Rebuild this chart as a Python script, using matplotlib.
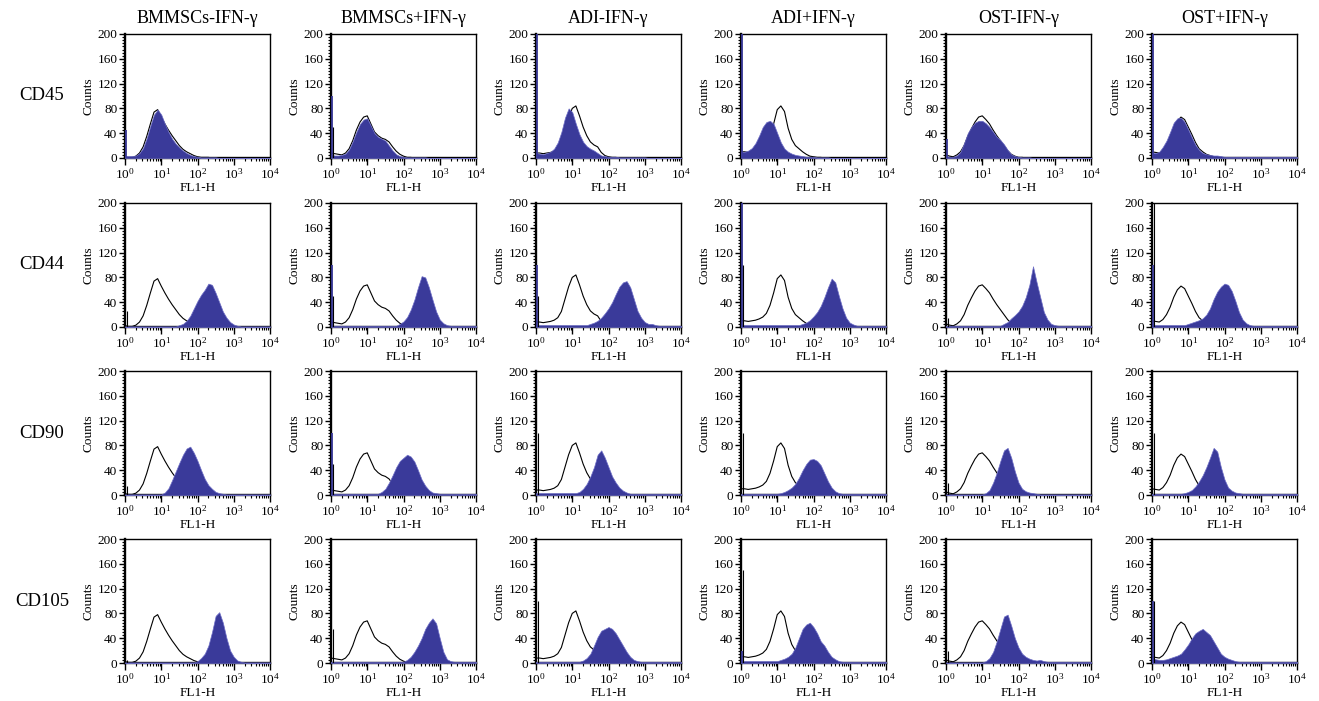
#!/usr/bin/env python3
"""Flow cytometry overlays: CD45/CD44/CD90/CD105 on BMMSCs, ADI and OST, with/without IFN-gamma."""

import numpy as np
import matplotlib
matplotlib.use('Agg')
import matplotlib.pyplot as plt
from matplotlib.ticker import MultipleLocator, FixedLocator, LogLocator, NullFormatter

plt.rcParams['font.family'] = ['Liberation Serif', 'DejaVu Serif']
plt.rcParams['mathtext.default'] = 'regular'

COLUMNS = ['BMMSCs-IFN-γ', 'BMMSCs+IFN-γ', 'ADI-IFN-γ', 'ADI+IFN-γ', 'OST-IFN-γ', 'OST+IFN-γ']
MARKERS = ['CD45', 'CD44', 'CD90', 'CD105']

# channel positions, log10(FL1-H) from 0 to 4 in steps of 0.1
LOG_X = np.round(np.arange(0, 41) * 0.1, 1)

# isotype control (open black line), one per column
CONTROLS = [
    [2, 1, 1, 3, 8, 18, 35, 55, 74, 78, 66, 55, 45, 36, 28, 20, 14, 10, 7, 4, 2, 1, 1, 1,
     0, 0, 0, 0, 0, 0, 0, 0, 0, 0, 0, 0, 0, 0, 0, 0, 0],
    [8, 7, 6, 5, 8, 15, 28, 45, 58, 66, 68, 55, 42, 36, 32, 30, 26, 18, 11, 6, 3, 1, 1,
     0, 0, 0, 0, 0, 0, 0, 0, 0, 0, 0, 0, 0, 0, 0, 0, 0, 0],
    [8, 8, 7, 8, 9, 11, 15, 25, 45, 65, 80, 84, 68, 50, 36, 26, 21, 18, 9, 4, 2, 1, 1,
     0, 0, 0, 0, 0, 0, 0, 0, 0, 0, 0, 0, 0, 0, 0, 0, 0, 0],
    [10, 10, 9, 10, 11, 13, 16, 22, 35, 55, 78, 84, 75, 48, 30, 20, 15, 10, 6, 3, 2, 1, 1,
     0, 0, 0, 0, 0, 0, 0, 0, 0, 0, 0, 0, 0, 0, 0, 0, 0, 0],
    [5, 3, 2, 5, 10, 20, 35, 47, 58, 66, 68, 62, 55, 45, 36, 28, 20, 12, 6, 3, 1, 1, 0,
     0, 0, 0, 0, 0, 0, 0, 0, 0, 0, 0, 0, 0, 0, 0, 0, 0, 0],
    [10, 9, 8, 12, 20, 32, 48, 60, 66, 62, 50, 38, 25, 15, 10, 6, 4, 2, 1, 1,
     0, 0, 0, 0, 0, 0, 0, 0, 0, 0, 0, 0, 0, 0, 0, 0, 0, 0, 0, 0, 0],
]

# stained sample (filled blue), one list per column
CD45 = [
    [3, 3, 3, 4, 8, 16, 32, 52, 70, 78, 70, 55, 42, 31, 23, 17, 12, 8, 5, 3, 2, 1, 1, 1, 1, 1,
     0, 0, 0, 0, 0, 0, 0, 0, 0, 0, 0, 0, 0, 0, 0],
    [5, 4, 4, 5, 7, 14, 27, 42, 55, 62, 64, 52, 40, 34, 31, 28, 20, 12, 6, 3, 2, 1, 1, 1, 1, 1, 1,
     0, 0, 0, 0, 0, 0, 0, 0, 0, 0, 0, 0, 0, 0],
    [8, 7, 6, 8, 10, 15, 25, 42, 65, 80, 74, 55, 38, 26, 19, 15, 12, 8, 4, 3, 2, 2, 2, 1, 1, 1,
     1, 1, 1, 1, 1, 0, 0, 0, 0, 0, 0, 0, 0, 0, 0],
    [10, 10, 12, 16, 24, 36, 50, 58, 60, 55, 40, 25, 15, 10, 7, 5, 4, 3, 2, 2, 2, 1, 1, 1, 1,
     0, 0, 0, 0, 0, 0, 0, 0, 0, 0, 0, 0, 0, 0, 0, 0],
    [3, 2, 2, 4, 10, 24, 40, 50, 57, 60, 60, 56, 50, 42, 34, 29, 22, 13, 6, 3, 2, 1, 1, 1,
     0, 0, 0, 0, 0, 0, 0, 0, 0, 0, 0, 0, 0, 0, 0, 0, 0],
    [8, 8, 10, 18, 28, 42, 57, 64, 65, 58, 46, 33, 21, 13, 8, 6, 5, 4, 4, 3,
     2, 2, 2, 2, 2, 2, 2, 2, 2, 2, 2, 2, 2, 2, 2, 2, 2, 2, 2, 2, 2],
]
CD44 = [
    [1, 1, 1, 1, 1, 1, 1, 1, 1, 1, 1, 1, 1, 1, 1, 3, 5, 10, 18, 30, 42, 52, 60, 70, 68, 55, 40,
     25, 15, 8, 4, 2, 1, 1, 1, 1, 1, 1, 1, 1, 1],
    [2, 2, 2, 2, 2, 2, 2, 2, 2, 2, 2, 2, 2, 2, 2, 2, 2, 2, 2, 5, 9, 16, 28, 44, 64, 82, 80, 64,
     44, 25, 12, 6, 3, 2, 2, 2, 2, 2, 2, 2, 2],
    [3, 3, 3, 3, 3, 3, 3, 3, 3, 3, 3, 3, 3, 3, 3, 5, 7, 10, 15, 22, 30, 40, 53, 65, 72, 74, 64,
     45, 26, 15, 8, 5, 5, 3, 2, 2, 2, 2, 2, 2, 2],
    [3, 3, 3, 3, 3, 3, 3, 3, 3, 3, 3, 3, 3, 3, 3, 3, 3, 5, 7, 11, 17, 24, 34, 48, 64, 78, 72,
     50, 30, 15, 7, 4, 2, 2, 2, 2, 2, 2, 2, 2, 2],
    [2, 2, 2, 2, 2, 2, 2, 2, 2, 2, 2, 2, 2, 2, 2, 2, 5, 8, 14, 19, 25, 34, 48, 68, 98, 72, 48,
     24, 12, 5, 3, 2, 2, 2, 2, 2, 2, 2, 2, 2, 2],
    [3, 3, 3, 3, 3, 3, 3, 3, 3, 3, 5, 7, 9, 11, 14, 20, 30, 45, 57, 65, 70, 68, 58, 42, 24, 12,
     6, 3, 2, 2, 2, 2, 2, 2, 2, 2, 2, 2, 2, 2, 2],
]
CD90 = [
    [1, 1, 1, 1, 1, 1, 1, 1, 1, 1, 1, 4, 11, 24, 38, 52, 65, 75, 78, 68, 55, 40, 26, 16, 10, 5,
     3, 2, 1, 1, 1, 1, 1, 1, 1, 1, 1, 1, 1, 1, 1],
    [2, 2, 2, 2, 2, 2, 2, 2, 2, 2, 2, 2, 2, 2, 5, 10, 20, 32, 45, 55, 60, 65, 62, 54, 40, 25,
     15, 8, 4, 3, 2, 2, 2, 2, 2, 2, 2, 2, 2, 2, 2],
    [3, 3, 3, 3, 3, 3, 3, 3, 3, 3, 3, 3, 5, 10, 18, 30, 45, 65, 72, 60, 45, 30, 20, 12, 7, 4,
     2, 2, 2, 2, 2, 2, 2, 2, 2, 2, 2, 2, 2, 2, 2],
    [2, 2, 2, 2, 2, 2, 2, 2, 2, 2, 2, 3, 5, 8, 12, 18, 28, 40, 50, 57, 58, 55, 48, 35, 22, 12,
     6, 3, 2, 2, 2, 2, 2, 2, 2, 2, 2, 2, 2, 2, 2],
    [1, 1, 1, 1, 1, 1, 1, 1, 1, 1, 1, 3, 8, 20, 36, 55, 72, 76, 60, 38, 20, 10, 6, 4, 3, 2,
     1, 1, 1, 1, 1, 1, 1, 1, 1, 1, 1, 1, 1, 1, 1],
    [2, 2, 2, 2, 2, 2, 2, 2, 2, 3, 5, 8, 14, 22, 32, 45, 60, 76, 70, 45, 25, 12, 7, 4, 3,
     2, 2, 2, 2, 2, 2, 2, 2, 2, 2, 2, 2, 2, 2, 2, 2],
]
CD105 = [
    [1, 1, 1, 1, 1, 1, 1, 1, 1, 1, 1, 1, 1, 1, 1, 1, 1, 1, 1, 1, 3, 8, 15, 28, 50, 76, 82, 65,
     40, 20, 10, 4, 2, 1, 1, 1, 1, 1, 1, 1, 1],
    [2, 2, 2, 2, 2, 2, 2, 2, 2, 2, 2, 2, 2, 2, 2, 2, 2, 2, 2, 2, 2, 5, 10, 18, 28, 40, 55, 65,
     72, 64, 40, 18, 6, 3, 2, 2, 2, 2, 2, 2, 2],
    [2, 2, 2, 2, 2, 2, 2, 2, 2, 2, 2, 2, 2, 4, 8, 15, 28, 42, 52, 55, 58, 55, 48, 38, 28, 18,
     10, 5, 3, 2, 2, 2, 2, 2, 2, 2, 2, 2, 2, 2, 2],
    [3, 3, 3, 3, 3, 3, 3, 3, 3, 3, 3, 5, 7, 10, 15, 25, 40, 55, 62, 65, 58, 48, 35, 28, 18, 10,
     6, 3, 2, 2, 2, 2, 2, 2, 2, 2, 2, 2, 2, 2, 2],
    [1, 1, 1, 1, 1, 1, 1, 1, 1, 1, 1, 3, 8, 18, 35, 55, 75, 78, 60, 40, 25, 15, 10, 7, 5, 4,
     5, 3, 2, 2, 2, 2, 2, 2, 2, 2, 2, 2, 2, 2, 2],
    [8, 6, 5, 5, 6, 8, 10, 12, 15, 22, 30, 40, 48, 52, 55, 50, 45, 35, 25, 15, 10, 7, 5, 3,
     2, 2, 2, 2, 2, 2, 2, 2, 2, 2, 2, 2, 2, 2, 2, 2, 2],
]
STAINED = [CD45, CD44, CD90, CD105]

# events piled up in the first channel (vertical spikes at the left edge)
STAINED_EDGE = [
    [45, 100, 200, 200, 30, 200],
    [0, 100, 100, 200, 0, 100],
    [0, 100, 0, 0, 0, 0],
    [0, 0, 0, 20, 0, 100],
]
CONTROL_EDGE = [
    [0, 50, 0, 0, 0, 0],
    [25, 50, 50, 100, 15, 200],
    [15, 50, 100, 100, 20, 100],
    [5, 55, 100, 150, 20, 100],
]

BLUE = '#3a3a9a'
EDGE_BLUE = '#6e6ec6'

W, H = 1319, 701
AX_LEFT = [125, 331, 536, 741, 946, 1152]
AX_TOP = [34, 203, 371, 539]
AX_W, AX_H = 145, 124


def draw_panel(ax, stained, control, s_edge, c_edge):
    x = 10 ** LOG_X
    ax.plot(x, control, color='black', lw=0.8, zorder=2)
    ax.fill_between(x, 0, stained, facecolor=BLUE, edgecolor=EDGE_BLUE, lw=0.5, zorder=3)
    if s_edge:
        ax.vlines(10 ** 0.02, 0, s_edge, color=BLUE, lw=1.3, zorder=4)
    if c_edge:
        ax.vlines(10 ** 0.05, 0, c_edge, color='black', lw=0.8, zorder=4)

    ax.set_xscale('log')
    ax.set_xlim(1, 1e4)
    ax.set_ylim(0, 200)
    ax.yaxis.set_major_locator(FixedLocator([0, 40, 80, 120, 160, 200]))
    ax.yaxis.set_minor_locator(MultipleLocator(5))
    ax.xaxis.set_major_locator(LogLocator(base=10, numticks=10))
    ax.xaxis.set_minor_locator(LogLocator(base=10, subs=np.arange(2, 10), numticks=10))
    ax.xaxis.set_minor_formatter(NullFormatter())
    ax.tick_params(axis='both', which='major', direction='out', length=4, width=1.0,
                   labelsize=9.5, pad=1.5)
    ax.tick_params(axis='both', which='minor', direction='out', length=2, width=0.8)
    ax.tick_params(axis='x', which='major', length=5)
    for side in ('left', 'bottom'):
        ax.spines[side].set_linewidth(1.7)
    for side in ('top', 'right'):
        ax.spines[side].set_linewidth(1.0)
    ax.set_ylabel('Counts', fontsize=9.5, labelpad=2)
    ax.set_xlabel('FL1-H', fontsize=9.5, labelpad=0.5)


def main():
    for arr in CONTROLS + [c for m in STAINED for c in m]:
        assert len(arr) == len(LOG_X), len(arr)

    fig = plt.figure(figsize=(W / 100, H / 100), dpi=100)
    for r, marker in enumerate(MARKERS):
        for c, col in enumerate(COLUMNS):
            rect = [AX_LEFT[c] / W, 1 - (AX_TOP[r] + AX_H) / H, AX_W / W, AX_H / H]
            ax = fig.add_axes(rect)
            draw_panel(ax, STAINED[r][c], CONTROLS[c], STAINED_EDGE[r][c], CONTROL_EDGE[r][c])
            if r == 0:
                ax.set_title(col, fontsize=13, pad=8)
        yc = 1 - (AX_TOP[r] + AX_H / 2) / H
        fig.text(42 / W, yc, marker, fontsize=13.5, ha='center', va='center')

    fig.savefig('out.png', dpi=100)
    plt.close(fig)


if __name__ == '__main__':
    main()
